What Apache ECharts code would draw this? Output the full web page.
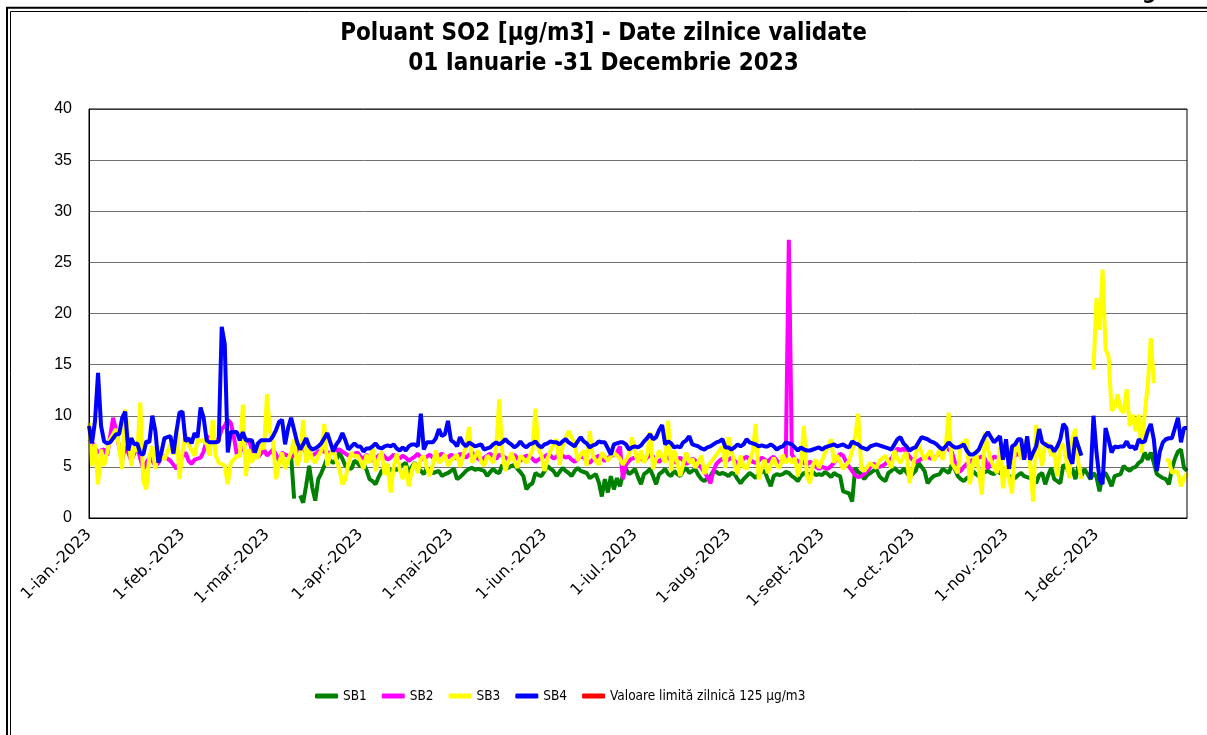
<!DOCTYPE html>
<html>
<head>
<meta charset="utf-8">
<title>Poluant SO2 - 2023</title>
<script src="https://cdn.jsdelivr.net/npm/echarts@6/dist/echarts.min.js"></script>
<style>
  html, body { margin: 0; padding: 0; background: #fff; }
  #chart { width: 1207px; height: 735px; }
</style>
</head>
<body>
<div id="chart"></div>
<script>
// etichete axa X
var luni = ["ian.", "feb.", "mar.", "apr.", "mai", "iun.", "iul.", "aug.", "sept.", "oct.", "nov.", "dec."];
var zileLuna = [31, 28, 31, 30, 31, 30, 31, 31, 30, 31, 30, 31];
var yTicks = { min: 0, max: 40, pas: 5 };
var numeLimita = "Valoare limită zilnică 125 µg/m3";
var valLimita = 125;

// valori zilnice, cate un rand pe luna (ian ... dec)
var sb1 = [
  null,null,null,null,null,null,null,null,null,null,null,null,null,null,null,null,null,null,null,null,null,null,null,null,null,null,null,null,null,null,null,
  null,null,null,null,null,null,null,null,null,null,null,null,null,null,null,null,null,null,null,null,null,null,null,null,null,null,null,null,
  null,null,null,null,null,null,null,null,6.1,1.9,null,2.2,1.5,3.2,5.1,3.0,1.7,3.8,4.4,5.1,5.9,5.6,5.4,5.7,6.4,5.8,5.1,4.9,4.8,5.6,5.4,
  5.0,5.3,4.7,3.8,3.6,3.3,4.0,4.6,4.8,4.9,4.6,4.8,4.7,4.9,5.2,5.4,4.3,5.0,5.4,4.9,4.6,4.3,4.9,4.6,4.4,4.5,4.6,4.1,4.3,4.4,
  4.6,4.8,3.8,4.0,4.3,4.6,4.8,4.9,4.7,4.8,4.7,4.6,4.1,4.5,4.8,4.5,4.4,5.2,5.0,4.9,5.1,5.2,4.8,4.5,4.1,2.8,3.2,3.4,4.4,4.2,4.1,
  4.6,5.1,4.8,4.6,4.1,4.5,4.9,4.6,4.4,4.1,4.6,4.9,4.6,4.5,4.4,3.9,4.1,4.3,3.5,2.1,3.8,2.5,4.1,2.8,3.9,3.1,4.2,4.8,4.3,4.5,
  4.8,4.0,3.3,4.3,4.5,4.8,4.1,3.3,4.3,4.5,4.8,4.3,4.1,4.6,4.3,4.1,4.6,4.9,4.4,4.6,4.8,4.2,3.8,3.6,3.9,4.1,4.6,4.5,4.3,4.4,4.3,
  4.1,4.4,4.3,3.8,3.4,3.8,4.1,4.4,4.2,3.9,4.3,4.5,4.6,3.8,3.1,4.1,4.3,4.2,4.3,4.5,4.4,4.1,3.9,3.6,4.1,4.4,4.3,4.3,4.5,4.2,4.3,
  4.2,4.5,4.3,4.0,4.4,4.2,4.1,2.6,2.5,2.4,1.6,4.9,4.5,4.3,3.8,4.2,4.4,4.6,4.8,4.1,3.8,3.6,4.4,4.6,4.9,4.6,4.4,4.8,4.5,4.0,
  4.3,4.6,5.4,5.0,4.6,3.4,3.8,4.1,4.2,4.3,4.8,4.6,4.4,5.2,4.8,4.1,3.8,3.6,3.9,4.1,4.6,4.3,4.1,4.4,4.5,4.6,4.4,4.3,4.6,4.4,4.4,
  4.4,4.1,4.0,3.9,4.2,4.4,4.1,4.0,3.9,4.4,3.4,4.2,4.4,3.3,4.2,4.9,3.8,3.6,3.4,5.2,5.0,4.4,4.8,3.8,5.1,4.1,4.8,4.3,3.8,4.4,
  4.0,2.6,4.3,4.4,3.8,3.1,4.1,4.2,4.3,5.1,4.8,4.6,4.9,5.0,5.4,5.6,6.4,5.7,6.4,5.4,4.3,4.1,3.9,3.8,3.3,4.8,5.8,6.5,6.7,4.9,4.6
];

var sb2 = [
  7.7,7.4,6.8,6.4,6.6,6.7,6.1,8.0,9.8,8.5,6.9,5.7,7.0,6.4,5.6,6.3,7.0,5.8,4.8,5.4,5.9,5.6,5.1,5.4,5.9,6.1,5.8,5.6,5.2,4.8,5.4,
  6.0,6.4,5.6,5.3,5.7,5.8,5.9,6.5,7.6,8.0,7.7,7.6,7.7,8.7,9.0,9.6,9.3,8.0,6.2,6.5,6.7,7.5,7.7,6.6,6.4,5.9,6.3,6.7,
  6.1,6.4,6.7,6.2,5.6,6.4,6.2,6.1,6.0,6.1,6.6,7.2,6.8,6.4,6.2,6.1,6.3,6.5,6.6,6.5,6.4,6.4,6.5,6.6,6.7,6.5,6.3,6.1,6.2,6.3,6.4,
  6.0,5.8,6.2,5.9,5.6,5.8,6.1,6.3,6.0,5.7,5.9,6.2,6.0,5.8,6.1,5.9,5.6,5.8,6.0,6.3,5.9,5.7,6.0,6.2,5.9,5.8,6.1,6.3,6.0,5.9,
  6.2,6.0,5.8,6.3,6.1,5.9,6.2,6.4,6.0,5.8,5.6,5.9,6.1,6.3,6.0,5.8,6.2,6.1,5.9,5.7,6.0,6.2,5.8,5.6,5.9,6.1,6.0,5.8,5.5,5.7,5.9,
  6.0,6.2,6.1,5.8,6.0,6.3,6.1,5.9,6.0,5.7,5.5,5.8,6.0,5.9,5.6,5.4,5.7,5.9,6.1,5.8,5.6,5.9,6.0,6.2,6.4,7.0,3.8,5.2,5.6,5.8,
  5.9,6.1,5.8,5.6,5.9,6.2,6.0,5.7,5.5,5.8,6.0,5.9,5.6,5.4,5.7,5.9,5.6,5.3,5.5,5.8,5.6,5.2,4.9,4.5,4.0,3.4,4.6,5.3,5.6,5.8,5.5,
  5.7,5.9,5.6,5.3,5.5,5.8,6.0,5.7,5.5,5.4,5.6,5.9,5.7,5.5,5.8,6.0,5.6,5.4,5.7,5.9,27.2,6.2,5.8,5.5,5.6,5.4,5.2,5.5,5.3,5.0,4.8,
  5.0,4.9,4.8,5.1,5.4,5.8,6.3,6.1,5.5,5.0,4.6,4.2,4.0,4.1,4.3,4.6,5.0,5.3,5.2,5.0,5.1,5.3,5.6,5.8,6.3,6.8,6.6,6.8,6.4,6.0,
  5.7,5.5,5.6,5.8,5.9,6.0,5.8,5.9,6.1,6.3,6.6,6.8,6.7,6.5,5.5,4.5,4.6,5.0,5.3,5.5,5.7,5.8,5.9,6.0,5.8,4.8,5.6,6.0,5.9,6.1,6.0,
  6.2,6.0,5.8,6.1,6.3,6.0,5.9,6.2,null,null,null,null,null,null,null,null,null,null,null,null,null,null,null,null,null,null,null,null,null,null,
  null,null,null,null,null,null,null,null,null,null,null,null,null,null,null,null,null,null,null,null,null,null,null,null,null,null,null,null,null,null,null
];

var sb3 = [
  9.3,5.1,7.2,3.3,6.7,5.1,6.4,7.7,8.2,8.7,6.9,4.8,10.6,8.3,5.1,7.0,6.5,11.3,3.6,2.8,6.0,7.0,4.8,7.0,6.2,5.7,6.5,7.2,6.2,8.7,3.8,
  6.5,8.3,7.2,6.6,6.1,7.7,7.5,7.7,7.2,6.1,9.6,6.1,5.4,5.3,5.1,3.3,5.4,5.7,6.1,6.0,11.1,4.1,6.7,5.4,6.4,5.8,7.4,6.7,
  12.1,8.5,7.4,3.8,5.4,6.4,4.8,5.6,6.5,7.7,5.1,6.0,9.6,5.4,6.7,5.8,5.4,6.1,6.6,9.2,5.1,6.2,6.7,5.6,4.8,3.3,3.8,5.4,6.4,6.0,6.1,
  5.6,4.8,6.2,5.4,7.0,4.6,5.8,6.5,4.2,5.3,2.5,5.0,6.3,4.8,3.8,5.1,3.1,4.6,5.4,4.4,5.8,6.1,4.9,4.1,5.3,6.6,5.4,5.7,6.2,5.1,
  5.6,5.9,6.2,5.0,6.0,7.2,8.9,5.4,6.0,6.6,5.5,5.1,6.1,5.8,5.4,7.0,11.6,6.4,4.6,5.5,6.4,5.6,4.9,6.1,5.8,5.4,6.0,6.6,10.7,6.8,6.1,
  4.6,5.8,6.6,7.2,7.7,5.2,7.0,7.8,8.5,7.9,7.2,5.6,6.2,6.6,5.1,8.5,6.1,5.6,5.2,6.4,6.0,5.6,6.0,6.4,6.1,5.8,5.2,5.7,6.2,7.9,
  6.4,5.4,6.6,5.4,6.2,8.4,4.8,5.8,6.6,6.0,5.4,9.5,4.6,6.6,5.5,4.1,5.3,6.4,5.4,5.8,4.9,5.5,6.1,4.3,5.0,5.4,5.8,6.2,6.6,7.0,4.9,
  7.9,6.6,5.2,4.3,6.1,5.0,4.8,5.6,6.4,9.2,3.8,4.9,5.7,4.4,5.2,5.9,5.1,4.9,6.2,5.4,5.8,5.4,5.9,4.1,5.4,9.0,4.1,3.4,5.2,5.7,4.9,
  5.6,6.4,7.0,7.7,5.4,6.1,5.5,4.8,5.2,5.6,6.6,8.0,10.2,4.9,4.6,5.0,5.4,5.1,4.9,5.6,5.8,6.1,5.5,4.9,6.6,5.8,5.4,6.0,6.4,3.4,
  5.0,6.2,7.2,6.4,5.7,6.2,6.6,5.6,6.1,6.7,5.7,7.0,10.3,5.4,4.9,4.4,7.2,7.4,7.7,3.3,5.2,6.6,4.6,2.3,8.4,6.8,5.6,5.0,4.4,6.9,2.9,
  5.1,3.9,2.4,7.0,7.2,5.7,7.2,7.7,5.2,1.6,9.1,6.5,5.1,7.3,7.2,6.1,6.4,4.1,7.1,7.2,5.6,3.9,7.9,8.7,5.4,3.8,null,null,null,14.5,
  21.5,18.4,24.3,16.5,15.8,10.5,10.8,12.1,10.6,10.3,12.6,9.0,10.1,8.5,10.1,6.4,10.3,13.0,17.6,13.2,null,null,null,5.7,5.6,4.4,4.6,4.4,3.1,3.9,4.4
];

var sb4 = [
  9.0,7.3,9.5,14.2,9.0,7.5,7.3,7.4,7.8,8.2,8.2,9.8,10.4,6.6,7.8,7.2,7.3,6.3,6.2,7.5,7.4,10.0,8.5,5.4,6.4,7.8,7.9,8.0,6.3,8.5,10.3,
  10.4,7.5,7.8,7.3,8.3,7.9,10.8,9.8,7.6,7.4,7.4,7.4,7.5,18.7,17.0,6.4,8.4,8.4,8.4,7.6,8.4,7.6,7.6,7.6,6.4,7.3,7.6,7.6,
  7.6,7.6,8.0,8.6,9.4,9.6,7.2,8.8,9.8,8.6,7.4,6.7,7.2,7.8,7.0,6.7,6.8,7.0,7.3,7.8,8.3,7.4,6.5,7.2,7.6,8.3,7.6,6.7,7.0,7.3,7.0,
  7.0,6.5,6.8,6.8,7.0,7.3,6.9,6.8,7.0,7.1,7.0,7.2,6.8,6.6,6.9,6.6,7.0,7.2,7.2,7.0,10.2,6.7,7.4,7.4,7.4,7.8,8.7,8.0,8.2,9.5,
  7.6,7.4,7.0,7.9,7.3,7.0,7.4,7.2,7.0,7.1,7.2,6.7,6.8,6.9,7.2,7.4,7.2,7.4,7.7,7.4,7.2,6.9,7.1,7.5,7.1,6.9,7.2,7.3,7.5,7.1,6.9,
  7.2,7.3,7.5,7.4,7.4,7.2,7.5,7.7,7.4,7.2,7.0,7.5,7.9,7.5,7.3,6.9,7.1,7.2,7.5,7.4,7.4,6.8,6.2,7.2,7.3,7.4,7.4,7.2,6.7,6.9,
  7.0,6.9,7.1,7.5,7.8,8.2,7.7,7.9,8.6,9.1,7.2,7.5,7.3,6.9,7.0,6.9,7.4,7.6,8.0,7.2,7.1,7.0,6.8,6.7,6.9,7.0,7.2,7.4,7.5,7.7,6.9,
  6.9,6.7,6.9,7.2,7.0,7.2,7.7,7.4,7.3,7.2,7.0,7.1,7.0,7.0,7.2,7.0,6.7,6.9,7.0,7.4,7.3,7.2,6.9,6.6,6.9,6.7,6.6,6.6,6.7,6.8,6.9,
  6.7,6.9,7.0,7.1,7.2,7.0,7.1,7.2,7.0,6.9,7.5,7.3,7.2,6.9,6.8,6.7,7.0,7.1,7.2,7.1,7.0,6.9,6.8,6.7,7.2,7.7,7.9,7.3,7.0,6.6,
  6.8,6.9,7.4,7.9,7.8,7.7,7.5,7.4,7.2,6.9,6.7,7.0,7.4,7.1,6.9,6.9,7.0,7.2,6.6,6.2,6.2,6.4,6.7,7.4,8.0,8.4,7.9,7.4,7.7,8.0,5.7,
  7.7,4.8,7.0,7.2,7.7,7.7,5.7,8.0,5.7,6.4,7.0,8.7,7.4,7.2,7.0,7.0,6.5,7.0,7.7,9.2,8.8,6.0,5.3,7.9,7.0,6.1,null,null,3.8,10.0,
  6.4,3.8,3.3,8.8,7.7,6.4,7.0,6.9,7.0,7.0,7.5,6.9,7.0,6.7,7.7,7.4,7.5,8.5,9.2,7.7,4.6,6.5,7.4,7.7,7.8,7.8,8.8,9.8,7.4,8.8,8.8
];

// categorii: fiecare zi din 2023, ex. "1-ian.-2023"
var zile = [];
for (var m = 0; m < 12; m++) {
  for (var d = 1; d <= zileLuna[m]; d++) {
    zile.push(d + "-" + luni[m] + "-2023");
  }
}
var limita = zile.map(function () { return valLimita; });

var fontTitlu = "'DejaVu Sans Condensed', 'DejaVu Sans', sans-serif";
var fontAxa = "'DejaVu Sans', sans-serif";
var fontLegenda = "'Liberation Sans Narrow', 'DejaVu Sans Condensed', sans-serif";
var fontText = "'Liberation Sans', Arial, sans-serif";

function serie(nume, culoare, valori) {
  return {
    name: nume,
    type: "line",
    data: valori,
    showSymbol: false,
    connectNulls: false,
    clip: true,
    color: culoare,
    lineStyle: { width: 4, color: culoare },
    emphasis: { disabled: true }
  };
}

var myChart = echarts.init(document.getElementById("chart"));

var option = {
  animation: false,
  backgroundColor: "#fff",
  title: {
    text: "Poluant SO2 [µg/m3] - Date zilnice validate\n01 Ianuarie -31 Decembrie 2023",
    left: "center",
    top: 14,
    textStyle: {
      fontFamily: fontTitlu,
      fontWeight: "bold",
      fontSize: 24,
      lineHeight: 30,
      color: "#000"
    }
  },
  legend: {
    left: 310,
    top: 684,
    itemWidth: 23,
    itemHeight: 5,
    itemGap: 15,
    icon: "roundRect",
    textStyle: { fontFamily: fontLegenda, fontSize: 13.5, color: "#000" },
    data: ["SB1", "SB2", "SB3", "SB4", numeLimita]
  },
  grid: { left: 89, right: 20, top: 109, bottom: 217 },
  xAxis: {
    type: "category",
    data: zile,
    boundaryGap: false,
    axisLine: { lineStyle: { color: "#000", width: 1 } },
    axisTick: { show: false },
    axisLabel: {
      interval: function (i, v) { return v.indexOf("1-") === 0; },
      rotate: 45,
      margin: 14,
      fontFamily: fontAxa,
      fontSize: 16,
      color: "#000"
    },
    splitLine: { show: false }
  },
  yAxis: {
    type: "value",
    min: yTicks.min,
    max: yTicks.max,
    interval: yTicks.pas,
    axisLine: { show: true, lineStyle: { color: "#000" } },
    axisTick: { show: false },
    axisLabel: { margin: 17, fontFamily: fontText, fontSize: 16, color: "#000" },
    splitLine: { lineStyle: { color: "#707070", width: 1 } }
  },
  graphic: [
    { type: "rect", silent: true, shape: { x: 7, y: 7.8, width: 1300, height: 900 },
      style: { fill: "none", stroke: "#000", lineWidth: 2 } },
    { type: "rect", silent: true, shape: { x: 10.5, y: 11.5, width: 1300, height: 900 },
      style: { fill: "none", stroke: "#000", lineWidth: 1 } },
    { type: "rect", silent: true, shape: { x: 89, y: 109, width: 1098, height: 409 },
      style: { fill: "none", stroke: "#000", lineWidth: 1 }, z: 10 },
    { type: "text", silent: true, left: 1142, top: -18,
      style: { text: "g", font: "bold 22px " + fontTitlu, fill: "#000" } }
  ],
  series: [
    serie("SB1", "#008000", sb1),
    serie("SB2", "#FF00FF", sb2),
    serie("SB3", "#FFFF00", sb3),
    serie("SB4", "#0000FF", sb4),
    serie(numeLimita, "#FF0000", limita)
  ]
};

myChart.setOption(option);
</script>
</body>
</html>
